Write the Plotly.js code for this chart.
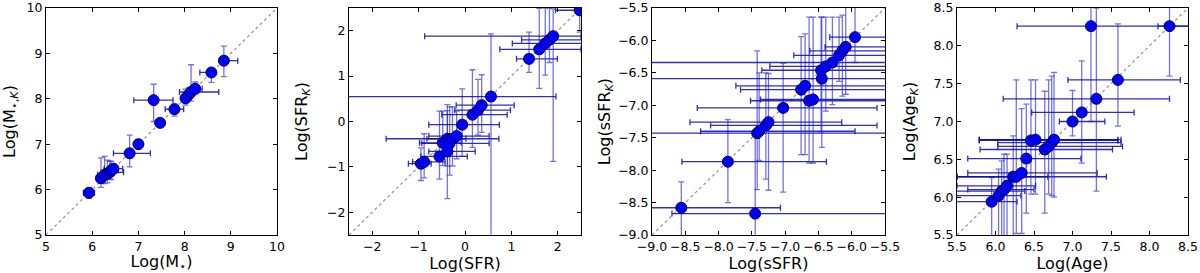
<!DOCTYPE html>
<html>
<head>
<meta charset="utf-8">
<script src="https://cdn.plot.ly/plotly-3.0.1.min.js"></script>
<style>html,body{margin:0;padding:0;background:#fff;}#chart{width:1200px;height:273px;}</style>
</head>
<body>
<div id="chart"></div>
<script>
// ---- Panel 1: stellar mass ----
const mass_x   = [5.93, 6.19, 6.27, 6.33, 6.38, 6.41, 6.46, 6.81, 7.00, 7.33, 7.47, 7.78, 8.02, 8.09, 8.14, 8.23, 8.58, 8.85];
const mass_y   = [5.93, 6.25, 6.33, 6.35, 6.38, 6.42, 6.46, 6.80, 7.00, 7.97, 7.47, 7.77, 8.01, 8.09, 8.15, 8.22, 8.58, 8.84];
const mass_xlo = [0.12, 0.10, 0.15, 0.10, 0.10, 0.15, 0.20, 0.35, 0.05, 0.43, 0.03, 0.20, 0.05, 0.10, 0.25, 0.10, 0.25, 0.05];
const mass_xhi = [0.12, 0.10, 0.15, 0.10, 0.30, 0.15, 0.20, 0.45, 0.05, 0.42, 0.03, 0.20, 0.05, 0.10, 0.60, 0.15, 0.05, 0.30];
const mass_ylo = [0.12, 0.20, 0.20, 0.20, 0.15, 0.20, 0.10, 0.30, 0.10, 0.47, 0.03, 0.15, 0.15, 0.10, 0.20, 0.10, 0.22, 0.35];
const mass_yhi = [0.10, 0.45, 0.40, 0.30, 0.25, 0.20, 0.10, 0.40, 0.10, 0.35, 0.03, 0.12, 0.20, 0.15, 0.60, 0.15, 0.05, 0.32];

// ---- Panel 2: SFR ----
const sfr_x   = [-0.95, -0.88, -0.55, -0.48, -0.38, -0.38, -0.33, -0.27, -0.18, -0.06, 0.16, 0.28, 0.36, 0.56, 1.38, 1.60, 1.73, 1.82, 1.90, 2.47];
const sfr_y   = [-0.93, -0.89, -0.77, -0.47, -0.38, -0.66, -0.48, -0.38, -0.32, -0.07, 0.15, 0.25, 0.36, 0.55, 1.38, 1.59, 1.72, 1.80, 1.88, 2.45];
const sfr_xlo = [0.27, 0.25, 0.40, 0.50, 1.32, 0.40, 0.60, 0.55, 0.60, 0.72, 0.66, 0.50, 0.55, 3.20, 0.27, 0.85, 0.71, 0.60, 2.77, 0.52];
const sfr_xhi = [0.22, 0.45, 0.60, 0.40, 0.40, 0.60, 0.85, 1.00, 0.70, 0.80, 0.75, 0.70, 0.70, 1.40, 0.61, 0.90, 0.80, 0.70, 0.60, 0.50];
const sfr_ylo = [0.37, 0.35, 0.50, 0.50, 0.60, 1.04, 0.70, 0.60, 0.50, 0.70, 0.72, 0.55, 0.60, 3.50, 0.30, 0.86, 0.70, 0.50, 2.76, 0.48];
const sfr_yhi = [0.35, 0.62, 1.00, 0.70, 0.75, 0.90, 0.80, 0.70, 0.55, 0.79, 0.99, 0.68, 0.67, 1.38, 0.59, 0.90, 0.78, 0.70, 0.60, 0.50];

// ---- Panel 3: specific SFR ----
const ssfr_x   = [-8.56, -7.86, -7.45, -7.42, -7.39, -7.29, -7.25, -7.03, -6.76, -6.70, -6.64, -6.58, -6.45, -6.46, -6.39, -6.29, -6.19, -6.14, -6.09, -5.95];
const ssfr_y   = [-8.58, -7.87, -8.67, -7.43, -7.40, -7.31, -7.26, -7.04, -6.76, -6.70, -6.93, -6.91, -6.59, -6.46, -6.40, -6.34, -6.23, -6.16, -6.10, -5.95];
const ssfr_xlo = [0.80, 0.69, 1.25, 1.80, 0.88, 0.83, 1.18, 1.29, 0.91, 1.04, 0.88, 0.79, 2.60, 0.89, 0.84, 2.80, 0.68, 0.49, 0.31, 0.38];
const ssfr_xhi = [1.49, 1.48, 2.00, 2.00, 1.44, 1.67, 1.10, 1.41, 1.30, 1.50, 1.20, 1.20, 1.20, 1.20, 1.20, 1.20, 1.00, 1.00, 1.00, 1.00];
const ssfr_ylo = [0.60, 0.63, 1.00, 0.87, 0.45, 0.83, 1.05, 1.30, 1.00, 1.06, 0.96, 0.98, 1.06, 0.95, 0.69, 0.65, 0.40, 0.70, 0.73, 0.39];
const ssfr_yhi = [0.40, 0.65, 1.20, 1.27, 0.90, 0.81, 0.75, 0.69, 0.82, 0.80, 1.29, 1.27, 0.95, 0.82, 0.76, 0.70, 0.59, 0.55, 0.70, 0.60];

// ---- Panel 4: age ----
const age_x   = [5.95, 6.04, 6.08, 6.11, 6.15, 6.23, 6.27, 6.34, 6.40, 6.46, 6.52, 6.64, 6.69, 6.73, 6.76, 7.00, 7.12, 7.24, 7.31, 7.59, 8.26];
const age_y   = [5.94, 6.02, 6.08, 6.10, 6.15, 6.27, 6.27, 6.32, 6.51, 6.75, 6.76, 6.63, 6.67, 6.72, 6.76, 7.00, 7.12, 8.26, 7.30, 7.55, 8.26];
const age_xlo = [0.50, 0.55, 0.60, 0.47, 0.65, 0.73, 0.77, 0.70, 0.76, 0.67, 0.73, 0.84, 0.66, 0.70, 0.97, 0.17, 0.65, 0.96, 1.21, 0.65, 0.15];
const age_xhi = [0.33, 0.29, 0.30, 0.39, 0.37, 0.45, 1.17, 0.98, 0.71, 1.13, 1.07, 0.88, 0.96, 0.90, 0.87, 0.42, 0.68, 1.30, 0.95, 0.81, 0.40];
const age_ylo = [0.60, 0.65, 0.70, 0.65, 0.75, 0.80, 0.75, 0.80, 0.72, 0.71, 0.72, 0.84, 0.63, 0.70, 0.76, 0.19, 0.67, 1.26, 1.22, 0.61, 0.66];
const age_yhi = [0.32, 0.35, 0.40, 0.47, 0.42, 0.54, 1.28, 0.85, 0.72, 0.80, 0.79, 0.77, 0.88, 0.88, 0.89, 0.41, 0.68, 0.40, 1.20, 0.74, 0.40];

// axis ranges, tick spacing, tick label formats and titles
const ranges    = [[5, 10], [-2.5, 2.5], [-9.0, -5.5], [5.5, 8.5]];
const dticks    = [1, 1, 0.5, 0.5];
const tickfmts  = ['d', 'd', '.1f', '.1f'];
const xtitles   = ['Log(M<sub>⋆</sub>)', 'Log(SFR)', 'Log(sSFR)', 'Log(Age)'];
const ytitles   = ['Log(M<sub>⋆,<i>K</i></sub>)', 'Log(SFR<sub><i>K</i></sub>)', 'Log(sSFR<sub><i>K</i></sub>)', 'Log(Age<sub><i>K</i></sub>)'];

const panels = [
  [mass_x, mass_y, mass_xlo, mass_xhi, mass_ylo, mass_yhi],
  [sfr_x, sfr_y, sfr_xlo, sfr_xhi, sfr_ylo, sfr_yhi],
  [ssfr_x, ssfr_y, ssfr_xlo, ssfr_xhi, ssfr_ylo, ssfr_yhi],
  [age_x, age_y, age_xlo, age_xhi, age_ylo, age_yhi]
];

// plot-area pixel boxes in a 1200x273 canvas
const W = 1200, H = 273;
const xpix = [[46, 277], [349, 581], [652, 885], [957, 1188]];
const ytop = 8, ybot = 235;

const traces = [];
const layout = {
  width: W, height: H,
  margin: {l: 0, r: 0, t: 0, b: 0},
  paper_bgcolor: '#fff', plot_bgcolor: '#fff',
  showlegend: false,
  font: {family: 'DejaVu Sans, sans-serif', color: '#000', size: 12.5}
};

panels.forEach((p, i) => {
  const n = i === 0 ? '' : String(i + 1);
  const xa = 'x' + n, ya = 'y' + n;
  const r = ranges[i];
  // 1:1 dotted line across the axis range
  traces.push({
    type: 'scatter', mode: 'lines', xaxis: xa, yaxis: ya,
    x: r.slice(), y: r.slice(),
    line: {color: '#9a9a9a', width: 1.3, dash: 'dot'},
    hoverinfo: 'skip'
  });
  traces.push({
    type: 'scatter', mode: 'markers', xaxis: xa, yaxis: ya,
    x: p[0], y: p[1],
    error_x: {type: 'data', symmetric: false, array: p[3], arrayminus: p[2],
              color: 'rgba(10,10,175,0.85)', thickness: 1.3, width: 3},
    error_y: {type: 'data', symmetric: false, array: p[5], arrayminus: p[4],
              color: 'rgba(40,40,215,0.65)', thickness: 1.3, width: 3},
    marker: {color: '#0000ff', size: 11, line: {color: '#00005a', width: 1}},
    cliponaxis: true
  });
  const common = {
    autorange: false,
    tickmode: 'linear', dtick: dticks[i], tick0: 0, tickformat: tickfmts[i],
    showgrid: false, zeroline: false,
    showline: true, linecolor: '#000', linewidth: 1, mirror: 'ticks',
    ticks: 'inside', ticklen: 4, tickcolor: '#000', tickwidth: 1,
    tickfont: {size: 12.5, family: 'DejaVu Sans, sans-serif'},
    ticklabeloverflow: 'allow',
    automargin: false
  };
  layout['xaxis' + n] = Object.assign({}, common, {
    range: r.slice(),
    domain: [xpix[i][0] / W, xpix[i][1] / W],
    anchor: ya,
    title: {text: xtitles[i], font: {size: 16}}
  });
  layout['yaxis' + n] = Object.assign({}, common, {
    range: r.slice(),
    domain: [(H - ybot) / H, (H - ytop) / H],
    anchor: xa,
    title: {text: ytitles[i], font: {size: 16}}
  });
});

Plotly.newPlot('chart', traces, layout, {displayModeBar: false, staticPlot: true});
</script>
</body>
</html>
